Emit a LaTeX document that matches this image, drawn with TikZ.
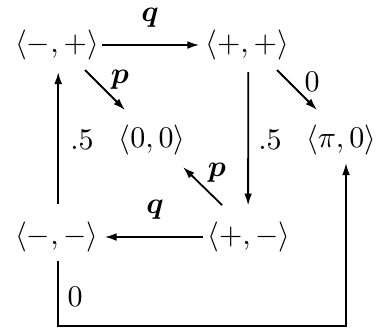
\documentclass[tikz,border=0pt]{standalone}
\usepackage{amsmath}
\usetikzlibrary{arrows.meta,calc}
\begin{document}
\begin{tikzpicture}[x=0.3333pt,y=-0.3333pt,
  st/.style={inner sep=0pt,outer sep=0pt},
  lab/.style={inner sep=0pt},
  arr/.style={line width=0.6pt,-{Latex[length=4pt,width=2.6pt]}}]
\useasboundingbox (0,0) rectangle (377,331);
\node[st] (a) at (57,45) {$\langle -,+\rangle$};
\node[st] (b) at (247,45) {$\langle +,+\rangle$};
\node[st] (c) at (152,140) {$\langle 0,0\rangle$};
\node[st] (d) at (341,140) {$\langle \pi,0\rangle$};
\node[st] (e) at (57,237) {$\langle -,-\rangle$};
\node[st] (f) at (249,237) {$\langle +,-\rangle$};
% connectors
\draw[arr,shorten <=1pt,shorten >=2pt] (a.east) -- (b.west);
\draw[arr,shorten <=1.5pt,shorten >=2pt] (f.west) -- (e.east);
\draw[arr,shorten <=6pt,shorten >=4pt] ([xshift=0.4pt]e.north) -- ([xshift=0.4pt]a.south);
\draw[arr,shorten <=4pt,shorten >=5.5pt] ([xshift=0.4pt]b.south) -- ([xshift=-0.3pt]f.north);
\draw[arr] ($(a)+(28,25)$) -- ($(c)+(-27,-30)$);
\draw[arr] ($(b)+(30,25)$) -- ($(d)+(-24,-30)$);
\draw[arr] ($(f)+(-27,-32)$) -- ($(c)+(31,27)$);
\draw[arr] ($(e.south)+(1,9)$) -- ++(0,65) -| ($(d.south)+(5,8)$);
% labels
\node[lab] (lq1) at (150,18) {$\boldsymbol{q}$};
\node[lab] (lp1) at (120,80) {$\boldsymbol{p}$};
\node[lab] (l01) at (312,82) {$0$};
\node[lab] (l51) at (82,140) {$.5$};
\node[lab] (l52) at (270,140) {$.5$};
\node[lab] (lp2) at (217,173) {$\boldsymbol{p}$};
\node[lab] (lq2) at (155,210) {$\boldsymbol{q}$};
\node[lab] (l02) at (75,297) {$0$};
\end{tikzpicture}
\end{document}
